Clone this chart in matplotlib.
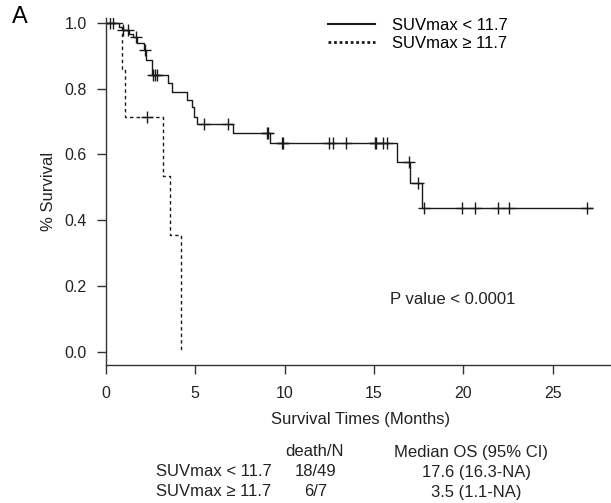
"""
Kaplan-Meier overall survival by SUVmax group
"""
import numpy as np
import matplotlib.pyplot as plt
from matplotlib.lines import Line2D

plt.rcParams['font.family'] = ['Liberation Sans', 'DejaVu Sans']

# SUVmax < 11.7 : event times (months) and survival after each event
low_times = [0.76, 0.95, 1.32, 1.54, 1.77, 2.16, 2.24, 2.57, 2.61, 3.50,
             3.69, 4.56, 4.81, 4.96, 5.12, 7.14, 9.19, 16.27, 17.02, 17.67]
low_surv = [0.988, 0.978, 0.966, 0.956, 0.937, 0.917, 0.887, 0.872, 0.841, 0.816,
            0.791, 0.765, 0.745, 0.715, 0.692, 0.664, 0.634, 0.577, 0.513, 0.439]
low_censor = [0.24, 0.39, 0.99, 1.23, 1.68, 2.18, 2.65, 2.75, 2.85, 5.51, 6.86,
              9.0, 9.06, 9.84, 9.93, 12.5, 12.73, 13.44, 15.06, 15.12, 15.53,
              15.75, 16.98, 17.48, 17.80, 19.93, 20.65, 21.96, 22.54, 26.9]
low_end = 27.18

# SUVmax >= 11.7
high_times = [0.89, 1.08, 3.22, 3.60, 4.21]
high_surv = [0.857, 0.714, 0.536, 0.357, 0.0]
high_censor = [2.29]

# table below the plot
groups = ['SUVmax < 11.7', 'SUVmax \u2265 11.7']
deaths = ['18/49', '6/7']
median_os = ['17.6 (16.3-NA)', '3.5 (1.1-NA)']


def km_level(times, surv, t):
    i = np.searchsorted(times, t, side='right')
    return 1.0 if i == 0 else surv[i - 1]


fig = plt.figure(figsize=(6.11, 5.03), dpi=100)
ax = fig.add_axes([0.173, 0.2744, 0.827, 0.6898])

ink = '#1a1a1a'
txt = '#222222'

# solid curve
x = [0] + low_times + [low_end]
y = [1.0] + low_surv + [low_surv[-1]]
ax.step(x, y, where='post', color=ink, lw=1.0)
ax.plot(low_censor, [km_level(low_times, low_surv, t) for t in low_censor],
        '+', color=ink, ms=8, mew=1.0)

# dashed curve
x = [0] + high_times
y = [1.0] + high_surv
ax.step(x, y, where='post', color=ink, lw=1.0, dashes=(2.5, 2.2))
ax.plot(high_censor, [km_level(high_times, high_surv, t) for t in high_censor],
        '+', color=ink, ms=8, mew=1.0)

ax.set_xlim(0, 28.26)
ax.set_ylim(-0.0385, 1.014)
ax.set_xticks([0, 5, 10, 15, 20, 25])
ax.set_yticks([0.0, 0.2, 0.4, 0.6, 0.8, 1.0])
ax.set_yticklabels(['0.0', '0.2', '0.4', '0.6', '0.8', '1.0'])
for s in ['top', 'right']:
    ax.spines[s].set_visible(False)
for s in ['left', 'bottom']:
    ax.spines[s].set_color('#333333')
    ax.spines[s].set_linewidth(1.0)
ax.tick_params(length=6.5, width=1.0, color='#333333', labelsize=11.5,
               labelcolor=txt)
ax.tick_params(axis='x', pad=8.5)
ax.tick_params(axis='y', pad=7)

ax.set_xlabel('Survival Times (Months)', fontsize=12, color=txt)
ax.xaxis.set_label_coords(0.505, -0.135)
ax.set_ylabel('% Survival', fontsize=12, color=txt, labelpad=6)

ax.text(15.9, 0.159, 'P value < 0.0001', fontsize=12, color=txt, va='center')

handles = [Line2D([], [], color=ink, lw=1.5),
           Line2D([], [], color=ink, lw=2.0, dashes=(1.0, 1.0))]
ax.legend(handles, groups, loc='upper left', bbox_to_anchor=(320 / 611, 1 - 10 / 503),
          bbox_transform=fig.transFigure, frameon=False, fontsize=12,
          handlelength=2.8, handletextpad=1.0, labelspacing=0.15, borderpad=0)

fig.text(12 / 611, 1 - 17 / 503, 'A', fontsize=17, va='center', ha='left')

# summary table
fs = 12
fig.text(314 / 611, 1 - 452 / 503, 'death/N', fontsize=fs, ha='center', va='center', color=txt)
fig.text(471 / 611, 1 - 452 / 503, 'Median OS (95% CI)', fontsize=fs, ha='center', va='center', color=txt)
for i, g in enumerate(groups):
    yy = 1 - (472 + 20 * i) / 503
    fig.text(156 / 611, yy, g, fontsize=fs, ha='left', va='center', color=txt)
    fig.text(316 / 611, yy, deaths[i], fontsize=fs, ha='center', va='center', color=txt)
    fig.text(476 / 611, yy, median_os[i], fontsize=fs, ha='center', va='center', color=txt)

fig.savefig('out.png', dpi=100, facecolor='white')
